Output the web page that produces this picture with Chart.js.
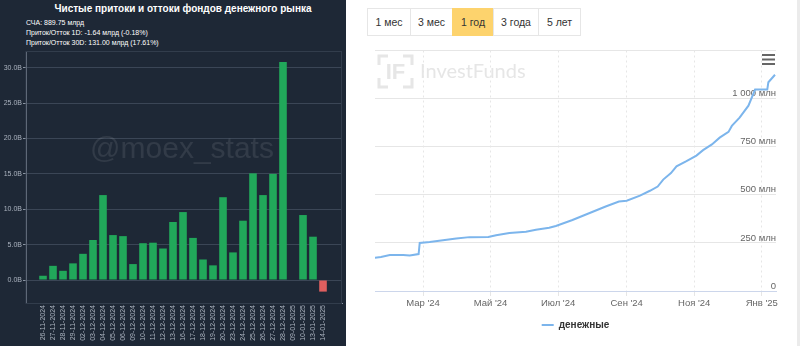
<!DOCTYPE html>
<html lang="ru">
<head>
<meta charset="utf-8">
<script src="https://cdn.jsdelivr.net/npm/chart.js@4.4.1/dist/chart.umd.min.js"></script>
<style>
  html, body { margin: 0; padding: 0; }
  body { width: 800px; height: 346px; position: relative; overflow: hidden; background: #fff; font-family: "Liberation Sans", Arial, sans-serif; }
  #left { position: absolute; left: 0; top: 0; width: 346px; height: 346px; background: #1e2836; }
  #left .title { position: absolute; left: 0; top: 3px; width: 366px; text-align: center; color: #fff; font-weight: bold; font-size: 10px; line-height: 12px; }
  #left .info { position: absolute; left: 26px; color: #fff; font-size: 7px; line-height: 10px; white-space: nowrap; }
  #flowChart { position: absolute; left: 0; top: 0; }
  #right { position: absolute; left: 346px; top: 0; width: 454px; height: 346px; background: #fff; }
  .btn { position: absolute; top: 8px; height: 26px; border: 1px solid #e6e6e6; background: #fff; color: #333; font-size: 10.5px; line-height: 26px; text-align: center; box-sizing: content-box; }
  .btn.active { background: #fdd36d; border-color: #fdd36d; }
  #navChart { position: absolute; left: 346px; top: 40px; }
  #edge { position: absolute; left: 797px; top: 0; width: 3px; height: 346px; background: #ebebeb; }
</style>
</head>
<body>
<div id="left">
  <div class="title">Чистые притоки и оттоки фондов денежного рынка</div>
  <div class="info" style="top:18px">СЧА: 889.75 млрд</div>
  <div class="info" style="top:28px">Приток/Отток 1D: -1.64 млрд (-0.18%)</div>
  <div class="info" style="top:38px">Приток/Отток 30D: 131.00 млрд (17.61%)</div>
</div>
<canvas id="flowChart" width="346" height="346"></canvas>
<div id="right"></div>
<div class="btn" style="left:367px;width:42px">1 мес</div>
<div class="btn" style="left:410px;width:41px">3 мес</div>
<div class="btn active" style="left:452px;width:40px">1 год</div>
<div class="btn" style="left:493px;width:44px">3 года</div>
<div class="btn" style="left:538px;width:41px">5 лет</div>
<canvas id="navChart" width="451" height="306"></canvas>
<div id="edge"></div>

<script>
// ---- left: daily net flows, billions ----
const flowDates = [
  '26-11-2024', '27-11-2024', '28-11-2024', '29-11-2024', '02-12-2024', '03-12-2024',
  '04-12-2024', '05-12-2024', '06-12-2024', '09-12-2024', '10-12-2024', '11-12-2024',
  '12-12-2024', '13-12-2024', '16-12-2024', '17-12-2024', '18-12-2024', '19-12-2024',
  '20-12-2024', '23-12-2024', '24-12-2024', '25-12-2024', '26-12-2024', '27-12-2024',
  '28-12-2024', '09-01-2025', '10-01-2025', '13-01-2025', '14-01-2025'
];
const flowValues = [
  0.6, 2.0, 1.3, 2.35, 3.7, 5.65,
  12.0, 6.35, 6.2, 2.25, 5.2, 5.27,
  4.45, 8.2, 9.6, 5.95, 2.9, 2.07,
  11.7, 3.9, 8.38, 15.07, 12.0, 15.0,
  30.8, 0, 9.18, 6.12, -1.64
];
const flowTicks = [0, 5, 10, 15, 20, 25, 30];

// ---- right: fund NAV, millions ----
const navDates = [
  '2024-01-17', '2024-01-23', '2024-01-31', '2024-02-12', '2024-02-18', '2024-02-26',
  '2024-02-27', '2024-03-07', '2024-03-19', '2024-03-31', '2024-04-12', '2024-04-29',
  '2024-05-06', '2024-05-18', '2024-06-02', '2024-06-11', '2024-06-23', '2024-06-29',
  '2024-07-14', '2024-07-29', '2024-08-13', '2024-08-25', '2024-09-01', '2024-09-13',
  '2024-09-22', '2024-09-29', '2024-10-04', '2024-10-11', '2024-10-16', '2024-10-25',
  '2024-11-03', '2024-11-09', '2024-11-17', '2024-11-24', '2024-12-02', '2024-12-05',
  '2024-12-12', '2024-12-20', '2024-12-26', '2025-01-06', '2025-01-07', '2025-01-13'
];
const navValues = [
  173, 177, 187, 187, 184, 192,
  250, 255, 264, 273, 280, 281,
  290, 301, 308, 318, 329, 338,
  369, 404, 439, 465, 469, 496,
  521, 543, 579, 613, 648, 675,
  704, 732, 762, 797, 827, 858,
  901, 963, 1047, 1047, 1085, 1124
];
const monthDates = ['2024-03-01', '2024-05-01', '2024-07-01', '2024-09-01', '2024-11-01', '2025-01-01'];
const monthLabels = ["Мар '24", "Май '24", "Июл '24", "Сен '24", "Ноя '24", "Янв '25"];
const navTicks = [0, 250, 500, 750, 1000, 1250];

const FONT = '"Liberation Sans", Arial, sans-serif';
const dayOf = d => (Date.parse(d) - Date.parse('2024-01-01')) / 86400000;

const moexWatermark = {
  id: 'moexWatermark',
  beforeDatasetsDraw(chart) {
    const {ctx, chartArea} = chart;
    ctx.save();
    ctx.strokeStyle = '#323d4c';
    ctx.lineWidth = 1;
    ctx.strokeRect(chartArea.left, chartArea.top + 0.5, chartArea.width - 0.5, chartArea.height);
    ctx.font = '30px ' + FONT;
    ctx.fillStyle = 'rgba(255,255,255,0.09)';
    ctx.textAlign = 'center';
    ctx.fillText('@moex_stats', 182, 158);
    ctx.restore();
  }
};

new Chart(document.getElementById('flowChart'), {
  type: 'bar',
  data: {
    datasets: [{
      data: flowValues.map((v, i) => ({x: i, y: v})),
      backgroundColor: c => (c.raw && c.raw.y < 0 ? '#df5f5f' : '#21a85a'),
      barPercentage: 0.76,
      categoryPercentage: 1
    }]
  },
  options: {
    responsive: false,
    animation: false,
    layout: {padding: {top: 51, right: 4, left: 0, bottom: 0}},
    plugins: {legend: {display: false}, tooltip: {enabled: false}},
    scales: {
      x: {
        type: 'linear',
        offset: false,
        min: -1.7,
        max: 29.9,
        afterBuildTicks: s => { s.ticks = flowDates.map((d, i) => ({value: i})); },
        afterFit: s => { s.height = 43; },
        ticks: {
          autoSkip: false, minRotation: 90, maxRotation: 90, padding: 2,
          color: '#aab2be', font: {size: 7, family: FONT},
          callback: v => flowDates[v]
        },
        grid: {display: false, offset: false, drawTicks: false},
        border: {display: true, color: '#8b95a3'}
      },
      y: {
        min: -3.25,
        max: 32.36,
        afterBuildTicks: s => { s.ticks = flowTicks.map(v => ({value: v})); },
        afterFit: s => { s.width = 26; },
        ticks: {
          padding: 1, color: '#aab2be', font: {size: 7, family: FONT},
          callback: v => v.toFixed(1) + 'B'
        },
        grid: {color: '#3b4656', tickLength: 3, tickColor: '#8b95a3'},
        border: {color: '#8b95a3'}
      }
    }
  },
  plugins: [moexWatermark]
});

const investFundsDecor = {
  id: 'investFundsDecor',
  beforeDraw(chart) {
    const ctx = chart.ctx;
    ctx.save();
    // logo watermark
    ctx.strokeStyle = '#e6e6e6';
    ctx.lineWidth = 3;
    const l = 33, t = 16, r = 66, b = 47, a = 9;
    ctx.beginPath();
    ctx.moveTo(l, t + a); ctx.lineTo(l, t); ctx.lineTo(l + a, t);
    ctx.moveTo(r - a, t); ctx.lineTo(r, t); ctx.lineTo(r, t + a);
    ctx.moveTo(l, b - a); ctx.lineTo(l, b); ctx.lineTo(l + a, b);
    ctx.moveTo(r - a, b); ctx.lineTo(r, b); ctx.lineTo(r, b - a);
    ctx.stroke();
    ctx.fillStyle = '#e6e6e6';
    ctx.font = 'bold 22px ' + FONT;
    ctx.textAlign = 'center';
    ctx.textBaseline = 'middle';
    ctx.fillText('IF', (l + r) / 2, (t + b) / 2 + 1);
    ctx.textAlign = 'left';
    ctx.font = '20px Lato, ' + FONT;
    ctx.fillText('InvestFunds', 74, 32);
    ctx.restore();
  },
  afterDraw(chart) {
    const ctx = chart.ctx;
    ctx.save();
    ctx.strokeStyle = '#666';
    ctx.lineWidth = 2;
    ctx.beginPath();
    [15, 19.5, 24].forEach(y => { ctx.moveTo(416, y); ctx.lineTo(429, y); });
    ctx.stroke();
    ctx.restore();
  }
};

new Chart(document.getElementById('navChart'), {
  type: 'line',
  data: {
    datasets: [{
      label: 'денежные',
      data: navDates.map((d, i) => ({x: dayOf(d), y: navValues[i]})),
      borderColor: '#7cb5ec',
      backgroundColor: '#7cb5ec',
      borderWidth: 2,
      pointRadius: 0,
      tension: 0
    }]
  },
  options: {
    responsive: false,
    animation: false,
    layout: {padding: {top: 10.5, right: 21, left: 29, bottom: 6}},
    plugins: {
      tooltip: {enabled: false},
      legend: {
        position: 'bottom',
        labels: {
          usePointStyle: true, pointStyle: 'line', pointStyleWidth: 12, padding: 8,
          color: '#333', font: {size: 10, weight: 'bold', family: FONT}
        }
      }
    },
    scales: {
      x: {
        type: 'linear',
        min: 16.6,
        max: 378.9,
        afterBuildTicks: s => { s.ticks = monthDates.map(d => ({value: dayOf(d)})); },
        afterFit: s => { s.height = 21; },
        ticks: {
          autoSkip: false, maxRotation: 0, padding: 2, color: '#666',
          font: {size: 9.5, family: FONT},
          callback: (v, i) => monthLabels[i]
        },
        grid: {color: '#e6e6e6', tickLength: 5},
        border: {color: '#ccd6eb', dash: [2, 3]}
      },
      y: {
        position: 'right',
        min: 0,
        max: 1250,
        afterBuildTicks: s => { s.ticks = navTicks.map(v => ({value: v})); },
        afterFit: s => { s.width = 0; },
        ticks: {
          mirror: true, padding: 0, labelOffset: -5, color: '#666',
          font: {size: 9.5, family: FONT},
          callback: v => (v === 1250 ? '' : v === 0 ? '0' :
            String(v).replace(/\B(?=(\d{3})+(?!\d))/g, ' ') + ' млн')
        },
        grid: {color: '#e6e6e6', drawTicks: false},
        border: {display: false}
      }
    }
  },
  plugins: [investFundsDecor]
});
</script>
</body>
</html>
